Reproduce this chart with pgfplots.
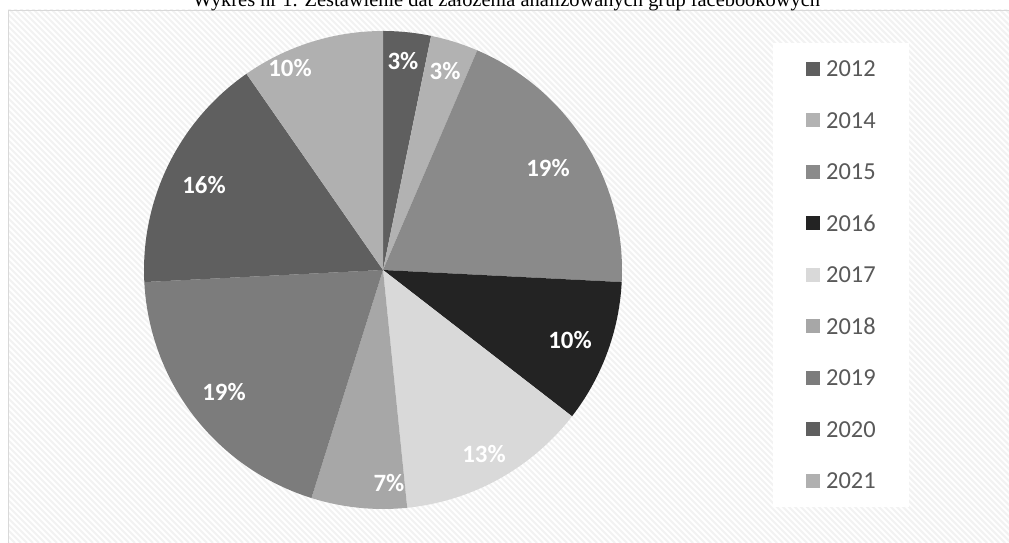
\documentclass[border=0pt]{standalone}
\usepackage{pgfplots}
\pgfplotsset{compat=1.18}
\usepackage{fontspec}
\setmainfont{Liberation Serif}
\newfontfamily\carlito{Carlito}
\definecolor{c2012}{HTML}{5F5F5F}
\definecolor{c2014}{HTML}{B2B2B2}
\definecolor{c2015}{HTML}{8A8A8A}
\definecolor{c2016}{HTML}{232323}
\definecolor{c2017}{HTML}{D9D9D9}
\definecolor{c2018}{HTML}{A7A7A7}
\definecolor{c2019}{HTML}{7C7C7C}
\definecolor{c2020}{HTML}{5F5F5F}
\definecolor{c2021}{HTML}{B0B0B0}
\definecolor{legtext}{HTML}{595959}
\definecolor{frame}{HTML}{D9D9D9}
\begin{document}
\begin{tikzpicture}[x=1bp,y=1bp]
% counts of groups per year (31 groups): 2012:1, 2014:1, 2015:6, 2016:3, 2017:4, 2018:2, 2019:6, 2020:5, 2021:3
\pgfmathsetmacro{\U}{360/31}
\pgfmathsetmacro{\aA}{90}
\pgfmathsetmacro{\aB}{90-1*\U}
\pgfmathsetmacro{\aC}{90-2*\U}
\pgfmathsetmacro{\aD}{90-8*\U}
\pgfmathsetmacro{\aE}{90-11*\U}
\pgfmathsetmacro{\aF}{90-15*\U}
\pgfmathsetmacro{\aG}{90-17*\U}
\pgfmathsetmacro{\aH}{90-23*\U}
\pgfmathsetmacro{\aI}{90-28*\U}
\pgfmathsetmacro{\aJ}{90-31*\U}
\fill[white] (0,0) rectangle (1009,543);
\begin{scope}
\clip (8,0) rectangle (1009,533);
\foreach \a in {-546,-540,...,1012} {\draw[black!5, line width=2.1bp] (\a,543) -- (\a+543,0);}
\end{scope}
\draw[frame, line width=1bp] (8.5,0) -- (8.5,532.5) -- (1009,532.5);
\node[anchor=base, font=\fontsize{20.5}{22}\selectfont, inner sep=0] at (506.5,536.5) {Wykres nr 1. Zestawienie dat założenia analizowanych grup facebookowych};
\begin{axis}[at={(0,0)}, anchor=south west, width=1009bp, height=543bp, scale only axis,
  xmin=0, xmax=1009, ymin=0, ymax=543, hide axis, clip=false,
  legend cell align=left,
  legend image code/.code={\fill[#1] (0bp,-7bp) rectangle (14bp,7bp);},
  legend style={at={(axis cs:773,500)}, anchor=north west, draw=none, fill=white,
    inner xsep=33bp, inner ysep=0pt, font=\carlito\fontsize{24.5}{24.5}\selectfont, text=legtext,
    nodes={inner sep=0pt, minimum height=51.5bp, text height=15.5bp, text depth=0pt},
    row sep=0pt, /tikz/every odd column/.append style={column sep=6bp}},
]
\addplot[fill=c2012, draw=none, domain=\aB:\aA, samples=10] ({383+239*cos(x)},{273+239*sin(x)}) -- (axis cs:383,273) -- cycle;
\addplot[fill=c2014, draw=none, domain=\aC:\aB, samples=10] ({383+239*cos(x)},{273+239*sin(x)}) -- (axis cs:383,273) -- cycle;
\addplot[fill=c2015, draw=none, domain=\aD:\aC, samples=60] ({383+239*cos(x)},{273+239*sin(x)}) -- (axis cs:383,273) -- cycle;
\addplot[fill=c2016, draw=none, domain=\aE:\aD, samples=30] ({383+239*cos(x)},{273+239*sin(x)}) -- (axis cs:383,273) -- cycle;
\addplot[fill=c2017, draw=none, domain=\aF:\aE, samples=40] ({383+239*cos(x)},{273+239*sin(x)}) -- (axis cs:383,273) -- cycle;
\addplot[fill=c2018, draw=none, domain=\aG:\aF, samples=20] ({383+239*cos(x)},{273+239*sin(x)}) -- (axis cs:383,273) -- cycle;
\addplot[fill=c2019, draw=none, domain=\aH:\aG, samples=60] ({383+239*cos(x)},{273+239*sin(x)}) -- (axis cs:383,273) -- cycle;
\addplot[fill=c2020, draw=none, domain=\aI:\aH, samples=50] ({383+239*cos(x)},{273+239*sin(x)}) -- (axis cs:383,273) -- cycle;
\addplot[fill=c2021, draw=none, domain=\aJ:\aI, samples=30] ({383+239*cos(x)},{273+239*sin(x)}) -- (axis cs:383,273) -- cycle;
\legend{2012,2014,2015,2016,2017,2018,2019,2020,2021}
\begin{scope}[every node/.style={text=white, font=\carlito\bfseries\fontsize{25}{25}\selectfont}]
\node at (axis cs:403,482) {3\%};
\node at (axis cs:445,472) {3\%};
\node at (axis cs:548,375) {19\%};
\node at (axis cs:570,203) {10\%};
\node at (axis cs:484,89) {13\%};
\node at (axis cs:389,60) {7\%};
\node at (axis cs:224,151) {19\%};
\node at (axis cs:204,358) {16\%};
\node at (axis cs:290,475) {10\%};
\end{scope}
\end{axis}
\pgfresetboundingbox
\path[use as bounding box] (0,0) rectangle (1009,543);
\end{tikzpicture}
\end{document}
